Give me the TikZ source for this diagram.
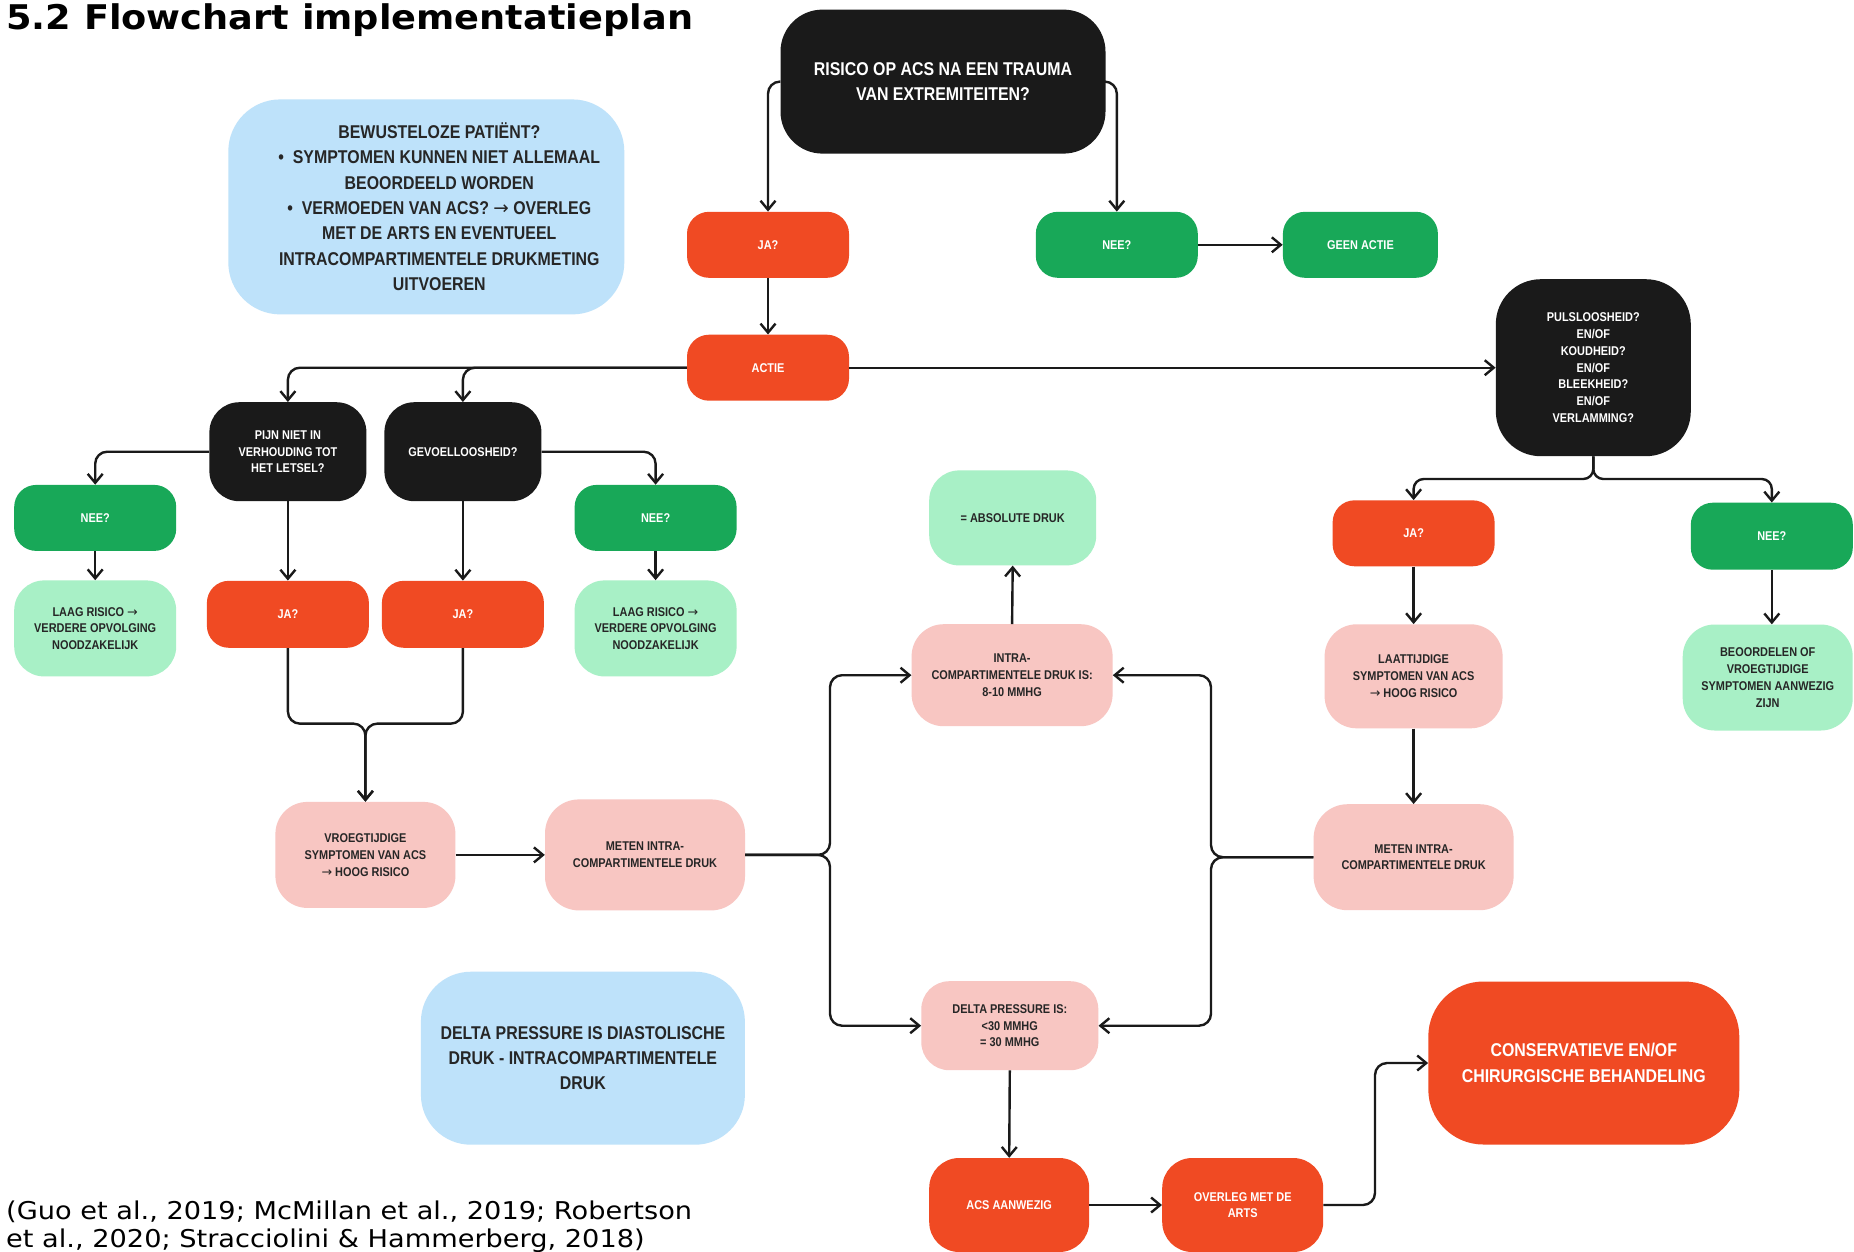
\documentclass[tikz,border=0pt]{standalone}
\usepackage{fontspec}
\usetikzlibrary{arrows.meta}
\newfontfamily\nf[FakeStretch=0.86]{Liberation Sans}
\newfontfamily\tf{DejaVu Sans}
\newfontfamily\tfwide[FakeStretch=1.08]{DejaVu Sans}
\newfontfamily\citefont[FakeStretch=1.11]{DejaVu Sans}
\newcommand{\myrarr}{{\tf\mdseries →}}
\definecolor{cblk}{RGB}{26,26,26}
\definecolor{corg}{RGB}{240,74,35}
\definecolor{cgrn}{RGB}{24,168,88}
\definecolor{cmint}{RGB}{168,240,198}
\definecolor{cpink}{RGB}{248,198,194}
\definecolor{cblue}{RGB}{190,226,250}
\definecolor{ctxt}{RGB}{38,38,38}
\definecolor{cline}{RGB}{26,26,26}
\tikzset{
  nd/.style={align=center, inner sep=0pt, draw=none},
  sm/.style={font=\nf\bfseries\fontsize{12.7}{16.75}\selectfont},
  bg/.style={font=\nf\bfseries\fontsize{18.5}{25.3}\selectfont},
  blackbox/.style={nd, fill=cblk, text=white},
  redbox/.style={nd, fill=corg, text=white},
  greenbox/.style={nd, fill=cgrn, text=white},
  mintbox/.style={nd, fill=cmint, text=ctxt},
  pinkbox/.style={nd, fill=cpink, text=ctxt},
  bluebox/.style={nd, fill=cblue, text=ctxt},
  wh/.style 2 args={minimum width=#1, minimum height=#2},
  rc/.style={rounded corners=#1},
  conn/.style={draw=cline, line width=2.4pt, -{Straight Barb[length=9pt,width=15pt]}, rounded corners=12pt},
}
\begin{document}
\begin{tikzpicture}[x=1pt,y=-1pt]
\useasboundingbox[fill=white] (0,0) rectangle (1854,1251);

% title and citation
\node[anchor=base west, inner sep=0pt, font=\tfwide\bfseries\fontsize{34}{40}\selectfont] (title) at (6,29) {5.2 Flowchart implementatieplan};
\node[anchor=base west, inner sep=0pt, font=\citefont\fontsize{24.5}{29}\selectfont] (cite1) at (6,1219) {(Guo et al., 2019; McMillan et al., 2019; Robertson};
\node[anchor=base west, inner sep=0pt, font=\citefont\fontsize{24.5}{29}\selectfont] (cite2) at (6,1247) {et al., 2020; Stracciolini \& Hammerberg, 2018)};

% nodes
\node[blackbox, bg, wh={325}{144}, rc=42pt] (R0) at (943,81.6) {RISICO OP ACS NA EEN TRAUMA\\VAN EXTREMITEITEN?};
\node[redbox, sm, wh={162}{66}, rc=22pt] (JA1) at (768,244.8) {JA?};
\node[greenbox, sm, wh={162}{66}, rc=22pt] (NEE1) at (1116.8,244.8) {NEE?};
\node[greenbox, sm, wh={155}{66}, rc=22pt] (GEEN) at (1360.4,244.8) {GEEN ACTIE};
\node[redbox, sm, wh={162}{66}, rc=22pt] (ACTIE) at (768,367.7) {ACTIE};
\node[bluebox, bg, wh={396}{215}, rc=52pt, align=left] (INFO1) at (426.3,206.9) {\hspace*{26pt}\raisebox{-2.6pt}[\height][\depth]{\begin{tabular}{@{}c@{}}BEWUSTELOZE PATIËNT?\\•\ \ SYMPTOMEN KUNNEN NIET ALLEMAAL\\BEOORDEELD WORDEN\\•\ \ VERMOEDEN VAN ACS? \myrarr{} OVERLEG\\MET DE ARTS EN EVENTUEEL\\INTRACOMPARTIMENTELE DRUKMETING\\UITVOEREN\end{tabular}}};
\node[blackbox, sm, wh={195}{177}, rc=45pt] (PULS) at (1593.3,367.7) {PULSLOOSHEID?\\EN/OF\\KOUDHEID?\\EN/OF\\BLEEKHEID?\\EN/OF\\VERLAMMING?};
\node[blackbox, sm, wh={157}{99}, rc=30pt] (PIJN) at (287.9,451.7) {PIJN NIET IN\\VERHOUDING TOT\\HET LETSEL?};
\node[blackbox, sm, wh={157}{99}, rc=30pt] (GEVOEL) at (462.9,451.7) {GEVOELLOOSHEID?};
\node[greenbox, sm, wh={162}{66}, rc=22pt] (NEEL) at (95.2,517.9) {NEE?};
\node[greenbox, sm, wh={162}{66}, rc=22pt] (NEEM) at (655.6,517.9) {NEE?};
\node[mintbox, sm, wh={162}{96}, rc=30pt] (LAAGL) at (95.2,628.4) {LAAG RISICO \myrarr\\VERDERE OPVOLGING\\NOODZAKELIJK};
\node[redbox, sm, wh={162}{67}, rc=22pt] (JAL) at (287.9,614.3) {JA?};
\node[redbox, sm, wh={162}{67}, rc=22pt] (JAM) at (462.9,614.3) {JA?};
\node[mintbox, sm, wh={162}{96}, rc=30pt] (LAAGM) at (655.6,628.4) {LAAG RISICO \myrarr\\VERDERE OPVOLGING\\NOODZAKELIJK};
\node[mintbox, sm, wh={167}{95}, rc=30pt] (ABS) at (1012.7,517.9) {= ABSOLUTE DRUK};
\node[pinkbox, sm, wh={201}{102}, rc=32pt] (INTRA) at (1012.1,675.2) {INTRA-\\COMPARTIMENTELE DRUK IS:\\8-10 MMHG};
\node[redbox, sm, wh={162}{66}, rc=22pt] (JAR) at (1413.6,533.3) {JA?};
\node[greenbox, sm, wh={162}{67}, rc=22pt] (NEER) at (1771.8,536.2) {NEE?};
\node[pinkbox, sm, wh={178}{104}, rc=32pt] (LAAT) at (1413.6,676.3) {LAATTIJDIGE\\SYMPTOMEN VAN ACS\\\myrarr{} HOOG RISICO};
\node[mintbox, sm, wh={170}{106}, rc=32pt] (BEOORD) at (1767.7,677.5) {BEOORDELEN OF\\VROEGTIJDIGE\\SYMPTOMEN AANWEZIG\\ZIJN};
\node[pinkbox, sm, wh={180}{106}, rc=32pt] (VROEG) at (365.4,854.9) {VROEGTIJDIGE\\SYMPTOMEN VAN ACS\\\myrarr{} HOOG RISICO};
\node[pinkbox, sm, wh={200}{111}, rc=34pt] (METENL) at (645,854.9) {METEN INTRA-\\COMPARTIMENTELE DRUK};
\node[pinkbox, sm, wh={200}{106}, rc=34pt] (METENR) at (1413.6,857.2) {METEN INTRA-\\COMPARTIMENTELE DRUK};
\node[pinkbox, sm, wh={177}{89}, rc=28pt] (DELTA) at (1009.8,1025.7) {DELTA PRESSURE IS:\\<30 MMHG\\= 30 MMHG};
\node[bluebox, bg, wh={324}{173}, rc=50pt] (INFO2) at (582.9,1058.2) {DELTA PRESSURE IS DIASTOLISCHE\\DRUK - INTRACOMPARTIMENTELE\\DRUK};
\node[redbox, sm, wh={160}{94}, rc=30pt] (ACS) at (1009.2,1205) {ACS AANWEZIG};
\node[redbox, sm, wh={161}{94}, rc=30pt] (OVERLEG) at (1242.7,1205) {OVERLEG MET DE\\ARTS};
\node[redbox, bg, wh={311}{163}, rc=55pt] (CONS) at (1583.8,1063) {CONSERVATIEVE EN/OF\\CHIRURGISCHE BEHANDELING};

% junction coordinates
\coordinate (jj) at (365.4,723.6);
\coordinate (bl) at (830,854.9);
\coordinate (br) at (1211,857.2);
\coordinate (pb) at (1593.3,479);
\coordinate (ob) at (1375,1205);

% connectors
\draw[conn] (R0.west) -| (JA1.north);
\draw[conn] (R0.east) -| (NEE1.north);
\draw[conn] (NEE1.east) -- (GEEN.west);
\draw[conn] (JA1.south) -- (ACTIE.north);
\draw[conn] (ACTIE.east) -- (PULS.west);
\draw[conn] (ACTIE.west) -| (PIJN.north);
\draw[conn] (ACTIE.west) -| (GEVOEL.north);
\draw[conn] (PIJN.west) -| (NEEL.north);
\draw[conn] (GEVOEL.east) -| (NEEM.north);
\draw[conn] (PIJN.south) -- (JAL.north);
\draw[conn] (GEVOEL.south) -- (JAM.north);
\draw[conn] (NEEL.south) -- (LAAGL.north);
\draw[conn] (NEEM.south) -- (LAAGM.north);
\draw[conn] (JAL.south) |- (jj) -- (VROEG.north);
\draw[conn] (JAM.south) |- (jj) -- (VROEG.north);
\draw[conn] (VROEG.east) -- (METENL.west);
\draw[conn] (METENL.east) -- (bl) |- (INTRA.west);
\draw[conn] (METENL.east) -- (bl) |- (DELTA.west);
\draw[conn] (METENR.west) -- (br) |- (INTRA.east);
\draw[conn] (METENR.west) -- (br) |- (DELTA.east);
\draw[conn] (INTRA.north) -- (ABS.south);
\draw[conn, rounded corners=10pt] (PULS.south) -- (pb) -| (JAR.north);
\draw[conn, rounded corners=10pt] (PULS.south) -- (pb) -| (NEER.north);
\draw[conn] (JAR.south) -- (LAAT.north);
\draw[conn] (NEER.south) -- (NEER.south |- BEOORD.north);
\draw[conn] (LAAT.south) -- (METENR.north);
\draw[conn] (DELTA.south) -- (ACS.north);
\draw[conn] (ACS.east) -- (OVERLEG.west);
\draw[conn] (OVERLEG.east) -- (ob) |- (CONS.west);
\end{tikzpicture}
\end{document}
